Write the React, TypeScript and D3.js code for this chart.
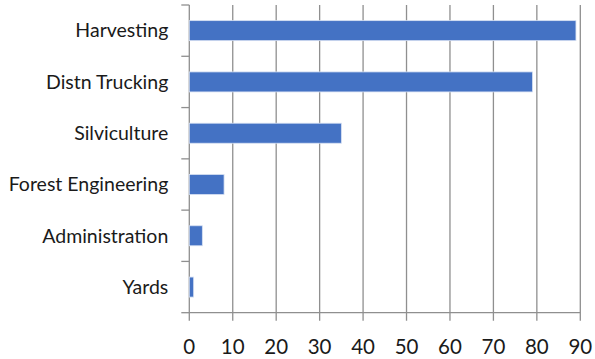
import React from "react";
import * as d3 from "d3";

const categories = ["Harvesting", "Distn Trucking", "Silviculture", "Forest Engineering", "Administration", "Yards"];
const values = [89, 79, 35, 8, 3, 1];
const xTicks = [0, 10, 20, 30, 40, 50, 60, 70, 80, 90];

const W = 595;
const H = 359;
const margin = { left: 189.3, right: 14.7, top: 5, bottom: 46.3 };

export default function App() {
  const x = d3.scaleLinear().domain([0, 90]).range([margin.left, W - margin.right]);
  const y = d3
    .scaleBand<string>()
    .domain(categories)
    .range([margin.top, H - margin.bottom])
    .paddingInner(0.61)
    .paddingOuter(0.305);
  const step = y.step();
  const yTickPos = d3.range(categories.length + 1).map((i) => margin.top + i * step);
  const bottom = H - margin.bottom;
  const grid = "#8f8f8f";
  const font = "Lato, 'Open Sans', sans-serif";

  return (
    <svg width={W} height={H} style={{ position: "absolute", left: 0, top: 0, background: "#fff" }}>
      {xTicks.map((t) => (
        <line key={"g" + t} x1={x(t)} x2={x(t)} y1={margin.top} y2={bottom + 8} stroke={grid} strokeWidth={1.3} />
      ))}
      {yTickPos.map((p, i) => (
        <line key={"yt" + i} x1={margin.left - 8} x2={margin.left} y1={p} y2={p} stroke={grid} strokeWidth={1.3} />
      ))}
      <line x1={margin.left} x2={W - margin.right} y1={bottom} y2={bottom} stroke={grid} strokeWidth={1.3} />
      {categories.map((c, i) => (
        <rect
          key={c}
          x={x(0)}
          y={y(c)!}
          width={x(values[i]) - x(0)}
          height={y.bandwidth()}
          fill="#4472C4"
          stroke="#d6e0f2"
          strokeWidth={0.8}
        />
      ))}
      {categories.map((c) => (
        <text
          key={"l" + c}
          x={margin.left - 21}
          y={y(c)! + y.bandwidth() / 2}
          dy="0.35em"
          textAnchor="end"
          fontFamily={font}
          fontSize={19.5}
          fill="#1a1a1a"
        >
          {c}
        </text>
      ))}
      {xTicks.map((t) => (
        <text
          key={"xl" + t}
          x={x(t)}
          y={354}
          textAnchor="middle"
          fontFamily={font}
          fontSize={20.5}
          fill="#1a1a1a"
        >
          {t}
        </text>
      ))}
    </svg>
  );
}
